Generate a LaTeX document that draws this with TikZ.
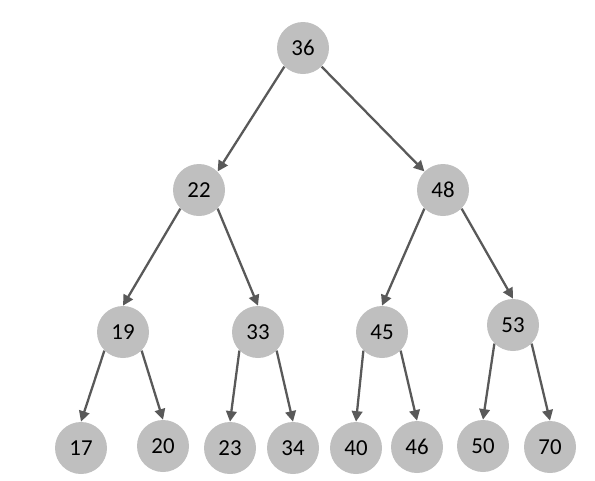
\documentclass[tikz,border=0pt]{standalone}
\usepackage{fontspec}
\setmainfont{Carlito}
\usetikzlibrary{arrows.meta}
\definecolor{nodegray}{HTML}{BFBFBF}
\definecolor{edgegray}{HTML}{595959}
\begin{document}
\begin{tikzpicture}[
    key/.style={circle, fill=nodegray, minimum size=1.04cm, inner sep=0pt, font=\fontsize{13}{15}\selectfont},
    link/.style={draw=edgegray, line width=1.3pt, -{Triangle[length=6pt,width=6pt]}}]
    \useasboundingbox (0,0) rectangle (11.9,-9.6);
    % root and second level
    \node[key] (n36) at (6.06,-0.96) {36};
    \node[key] (n22) at (3.98,-3.80) {22};
    \node[key] (n48) at (8.86,-3.80) {48};
    % third level
    \node[key] (n19) at (2.46,-6.64) {19};
    \node[key] (n33) at (5.16,-6.64) {33};
    \node[key] (n45) at (7.64,-6.64) {45};
    \node[key] (n53) at (10.26,-6.50) {53};
    % leaves
    \node[key] (n17) at (1.62,-8.96) {17};
    \node[key] (n20) at (3.26,-8.92) {20};
    \node[key] (n23) at (4.60,-8.96) {23};
    \node[key] (n34) at (5.86,-8.96) {34};
    \node[key] (n40) at (7.12,-8.96) {40};
    \node[key] (n46) at (8.34,-8.94) {46};
    \node[key] (n50) at (9.66,-8.92) {50};
    \node[key] (n70) at (11.00,-8.94) {70};
    \draw[link] (n36.225)--(n22.45);
    \draw[link] (n36.315)--(n48.135);
    \foreach \p/\l/\r in {22/19/33, 48/45/53, 19/17/20, 33/23/34, 45/40/46, 53/50/70}{
        \draw[link] (n\p.225)--(n\l.north);
        \draw[link] (n\p.315)--(n\r.north);
    }
\end{tikzpicture}
\end{document}
